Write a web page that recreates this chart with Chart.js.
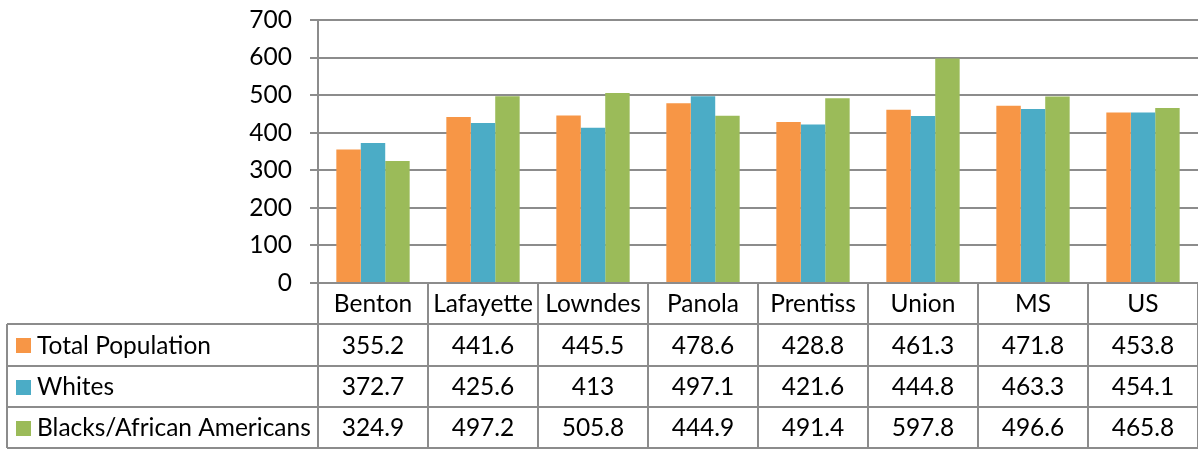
<!DOCTYPE html>
<html>
<head>
<meta charset="utf-8">
<script src="https://cdn.jsdelivr.net/npm/chart.js@4/dist/chart.umd.min.js"></script>
<style>
  html, body { margin: 0; padding: 0; background: #ffffff; }
  #wrap { width: 1198px; height: 449px; }
</style>
</head>
<body>
<div id="wrap"><canvas id="chart" width="1198" height="449"></canvas></div>
<script>
// Rates by area and population group
const categories = ['Benton', 'Lafayette', 'Lowndes', 'Panola', 'Prentiss', 'Union', 'MS', 'US'];
const totalPopulation = [355.2, 441.6, 445.5, 478.6, 428.8, 461.3, 471.8, 453.8];
const whites = [372.7, 425.6, 413, 497.1, 421.6, 444.8, 463.3, 454.1];
const blacks = [324.9, 497.2, 505.8, 444.9, 491.4, 597.8, 496.6, 465.8];
const seriesNames = ['Total Population', 'Whites', 'Blacks/African Americans'];
const yTicks = [0, 100, 200, 300, 400, 500, 600, 700];

const colors = ['#F79646', '#4BACC6', '#9BBB59'];
const lineColor = '#8c8c8c';
const FONT = 'Lato, "Open Sans", sans-serif';
const FONT_SIZE = 24.5;

// Data table drawn beneath the plot, aligned with the category columns
const dataTable = {
  id: 'dataTable',
  afterDraw(chart) {
    const ctx = chart.ctx;
    const area = chart.chartArea;
    const xs = chart.scales.x;
    const n = categories.length;
    const catW = (area.right - area.left) / n;
    const rowTops = [area.bottom, 324, 366, 407, 448];
    const tableLeft = 7;
    const rightEdge = chart.width;
    const series = [totalPopulation, whites, blacks];

    ctx.save();
    ctx.strokeStyle = lineColor;
    ctx.lineWidth = 2;

    // horizontal rules
    for (let r = 1; r < rowTops.length; r++) {
      ctx.beginPath();
      ctx.moveTo(tableLeft, rowTops[r]);
      ctx.lineTo(rightEdge, rowTops[r]);
      ctx.stroke();
    }
    // left edge of the legend column
    ctx.beginPath();
    ctx.moveTo(tableLeft, rowTops[1]);
    ctx.lineTo(tableLeft, rowTops[4]);
    ctx.stroke();
    // column separators
    for (let i = 0; i <= n; i++) {
      const x = Math.round(xs.getPixelForValue(i) - catW / 2);
      ctx.beginPath();
      ctx.moveTo(x, rowTops[0]);
      ctx.lineTo(x, rowTops[4]);
      ctx.stroke();
    }

    ctx.fillStyle = '#000000';
    ctx.font = FONT_SIZE + 'px ' + FONT;
    ctx.textBaseline = 'middle';
    ctx.textAlign = 'center';

    // category header row
    const headY = (rowTops[0] + rowTops[1]) / 2 + 1;
    categories.forEach((c, i) => {
      ctx.fillText(c, xs.getPixelForValue(i), headY);
    });

    // series rows with legend keys
    series.forEach((vals, s) => {
      const cy = (rowTops[s + 1] + rowTops[s + 2]) / 2 + 1;
      ctx.fillStyle = colors[s];
      ctx.fillRect(16, Math.round(cy - 8), 15, 15);
      ctx.fillStyle = '#000000';
      ctx.textAlign = 'left';
      ctx.fillText(seriesNames[s], 37, cy);
      ctx.textAlign = 'center';
      vals.forEach((v, i) => {
        ctx.fillText(String(v), xs.getPixelForValue(i), cy);
      });
    });
    ctx.restore();
  }
};

new Chart(document.getElementById('chart'), {
  type: 'bar',
  data: {
    labels: categories,
    datasets: [
      { label: seriesNames[0], data: totalPopulation, backgroundColor: colors[0] },
      { label: seriesNames[1], data: whites, backgroundColor: colors[1] },
      { label: seriesNames[2], data: blacks, backgroundColor: colors[2] }
    ]
  },
  options: {
    responsive: false,
    animation: false,
    devicePixelRatio: 1,
    layout: { padding: { left: 0, right: 0, top: 20, bottom: 166 } },
    plugins: { legend: { display: false }, tooltip: { enabled: false } },
    datasets: { bar: { categoryPercentage: 3 / 4.5, barPercentage: 1, borderWidth: 0 } },
    scales: {
      x: { display: false, offset: true },
      y: {
        min: 0,
        max: 700,
        afterBuildTicks(scale) { scale.ticks = yTicks.map(v => ({ value: v })); },
        afterFit(scale) {
          scale.width = 318;
          scale.paddingTop = 0;
          scale.paddingBottom = 0;
        },
        ticks: {
          padding: 18,
          color: '#000000',
          font: { family: FONT, size: FONT_SIZE }
        },
        grid: { color: lineColor, lineWidth: 2, tickLength: 8, tickColor: lineColor },
        border: { display: true, color: lineColor, width: 2 }
      }
    }
  },
  plugins: [dataTable]
});
</script>
</body>
</html>
